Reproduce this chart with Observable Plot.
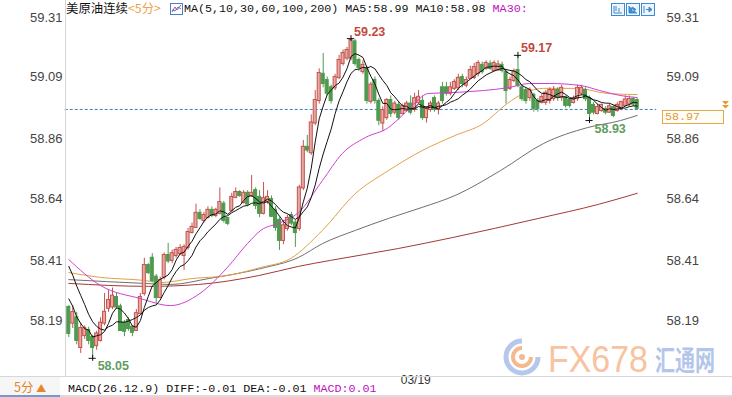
<!DOCTYPE html>
<html><head><meta charset="utf-8">
<script src="https://cdn.jsdelivr.net/npm/d3@7"></script>
<script src="https://cdn.jsdelivr.net/npm/@observablehq/plot@0.6"></script>
<style>
body{margin:0;background:#fff;}
#wrap{position:relative;width:732px;height:397px;overflow:hidden;background:#fff;font-family:"Liberation Sans",Arial,sans-serif;}
.abs{position:absolute;white-space:nowrap;}
.mono{font-family:"Liberation Mono","DejaVu Sans Mono",monospace;font-size:11.7px;line-height:14px;}
.cjk{font-family:"Noto Sans CJK SC",sans-serif;}
</style></head><body><div id="wrap"></div>
<script>
// ---- data ----
const open = [
58.238,58.180,58.200,58.090,58.134,58.153,58.127,58.097,58.116,58.180,
58.235,58.240,58.275,58.240,58.180,58.190,58.165,58.153,58.215,58.290,
58.393,58.420,58.350,58.275,58.350,58.430,58.412,58.430,58.437,58.430,
58.460,58.515,58.534,58.586,58.560,58.571,58.597,58.578,58.586,58.620,
58.567,58.597,58.645,58.663,58.626,58.660,58.652,58.670,58.645,58.586,
58.630,58.637,58.597,58.560,58.486,58.530,58.578,58.550,58.530,58.680,
58.830,58.810,58.920,59.003,59.100,59.077,59.050,59.050,59.088,59.140,
59.160,59.160,59.220,59.151,59.110,59.120,59.000,59.077,59.000,58.920,
58.940,59.003,58.960,58.985,58.955,58.966,58.990,58.970,58.995,59.000,
58.940,58.970,59.010,58.970,59.050,59.050,59.030,59.048,59.050,59.088,
59.060,59.085,59.088,59.103,59.133,59.122,59.137,59.114,59.118,59.133,
59.107,59.048,59.077,59.114,59.050,59.040,59.014,59.022,59.000,58.996,
58.996,59.003,59.010,59.040,59.014,59.014,59.003,58.996,59.010,59.030,
59.040,59.010,58.985,58.955,58.966,58.970,58.960,58.977,58.966,58.974,
58.985,58.990,59.007,59.003];
const close = [
58.142,58.219,58.116,58.160,58.160,58.116,58.090,58.140,58.180,58.220,
58.264,58.280,58.240,58.153,58.150,58.160,58.146,58.215,58.275,58.393,
58.367,58.338,58.275,58.338,58.430,58.410,58.437,58.449,58.456,58.460,
58.515,58.534,58.586,58.567,58.578,58.597,58.578,58.597,58.626,58.560,
58.549,58.645,58.663,58.652,58.660,58.620,58.660,58.615,58.586,58.640,
58.645,58.575,58.534,58.486,58.540,58.567,58.550,58.515,58.680,58.830,
58.820,58.920,59.003,59.103,59.066,59.030,59.003,59.088,59.151,59.177,
59.188,59.225,59.140,59.125,59.133,59.003,59.060,59.003,58.930,58.966,
59.003,58.955,58.990,58.940,58.980,58.990,58.960,59.010,59.015,58.940,
58.970,58.990,58.970,58.990,59.003,59.030,59.050,59.070,59.085,59.066,
59.077,59.114,59.125,59.140,59.110,59.140,59.122,59.140,59.135,59.114,
59.040,59.077,59.107,59.059,59.010,59.003,59.040,58.974,58.974,59.014,
59.030,59.040,59.040,59.014,59.048,58.985,58.985,59.007,59.048,59.048,
59.010,58.955,58.960,58.977,58.985,58.960,58.980,58.948,58.985,58.996,
59.005,59.007,58.990,58.974];
const high = [
58.245,58.245,58.220,58.180,58.170,58.165,58.135,58.150,58.200,58.290,
58.300,58.310,58.290,58.250,58.190,58.200,58.170,58.230,58.290,58.420,
58.400,58.437,58.360,58.350,58.440,58.475,58.450,58.460,58.470,58.470,
58.530,58.550,58.620,58.600,58.590,58.610,58.610,58.605,58.680,58.630,
58.570,58.660,58.680,58.670,58.670,58.670,58.726,58.680,58.670,58.700,
58.670,58.650,58.610,58.570,58.560,58.580,58.590,58.560,58.690,58.855,
58.874,58.950,59.040,59.120,59.177,59.090,59.060,59.100,59.170,59.190,
59.200,59.232,59.230,59.160,59.150,59.130,59.070,59.090,59.010,58.980,
59.010,59.020,59.000,59.000,58.990,59.000,59.020,59.030,59.040,59.020,
58.980,59.000,59.020,59.000,59.070,59.070,59.070,59.080,59.100,59.100,
59.090,59.130,59.140,59.150,59.145,59.150,59.150,59.150,59.150,59.145,
59.115,59.090,59.120,59.170,59.060,59.050,59.050,59.030,59.010,59.025,
59.040,59.050,59.055,59.050,59.060,59.020,59.010,59.020,59.060,59.060,
59.050,59.020,58.995,58.990,58.990,58.980,58.990,58.985,58.995,59.000,
59.020,59.020,59.015,59.010];
const low = [
58.127,58.160,58.100,58.068,58.120,58.100,58.050,58.080,58.110,58.170,
58.220,58.230,58.230,58.150,58.130,58.150,58.130,58.150,58.210,58.280,
58.360,58.330,58.253,58.270,58.340,58.400,58.400,58.420,58.430,58.375,
58.450,58.510,58.530,58.560,58.550,58.565,58.570,58.570,58.580,58.550,
58.540,58.590,58.640,58.645,58.620,58.610,58.645,58.600,58.570,58.580,
58.620,58.570,58.520,58.449,58.470,58.520,58.540,58.460,58.520,58.670,
58.810,58.800,58.910,58.990,59.050,59.020,58.990,59.040,59.080,59.130,
59.150,59.150,59.130,59.110,59.100,58.990,58.990,58.990,58.910,58.890,
58.930,58.940,58.950,58.930,58.950,58.960,58.950,58.960,58.990,58.930,
58.920,58.960,58.960,58.950,58.990,59.020,59.020,59.040,59.040,59.050,
59.050,59.080,59.080,59.090,59.100,59.115,59.115,59.110,59.110,59.105,
58.990,59.040,59.070,59.050,59.000,58.990,59.000,58.960,58.960,58.990,
58.985,58.990,59.000,59.000,59.000,58.975,58.975,58.990,59.000,59.020,
59.000,58.929,58.950,58.950,58.960,58.950,58.955,58.940,58.960,58.965,
58.980,58.980,58.980,58.966];
// closes before the first visible bar (for MA5 / MA10)
const priorClose = [58.55,58.52,58.50,58.50,58.48,58.36,58.31,58.28,58.258];

// long moving averages, sampled at bar positions
const ma30Idx = [1,9,19,26.6,34,40.9,46,49.3,54.3,58.8,64.8,69.8,75.6,81.4,84.9,88.2,91.4,98.2,105.3,111.3,117,122,129.6,134.6,139.6,144];
const ma30Val = [58.415,58.319,58.271,58.245,58.29,58.386,58.475,58.523,58.552,58.589,58.707,58.807,58.866,58.903,58.948,58.996,59.029,59.033,59.04,59.05,59.066,59.066,59.059,59.04,59.022,59.014];
const ma60Idx = [1,9,19.9,24,32,40.9,49.3,56.8,64.8,73.1,81.4,89.9,98.2,105.3,111.3,115.4,120.4,129,136.5,144];
const ma60Val = [58.367,58.349,58.338,58.33,58.345,58.356,58.386,58.419,58.523,58.659,58.744,58.818,58.874,58.918,58.992,59.029,59.048,59.048,59.029,59.025];
const ma100Idx = [1,19.9,26.6,36.2,49.3,58.8,64.8,73.1,81.4,89.9,98.2,109.6,120.4,131.5,139.8,144];
const ma100Val = [58.341,58.327,58.323,58.345,58.382,58.423,58.474,58.523,58.567,58.608,58.652,58.744,58.844,58.903,58.929,58.948];
const ma200Idx = [1,21.1,33.6,48.8,58.8,66.8,83.9,97.7,119.1,134.2,144];
const ma200Val = [58.327,58.316,58.323,58.356,58.39,58.412,58.456,58.497,58.567,58.619,58.66];

const yTicks = [59.31,59.09,58.86,58.64,58.41,58.19];
const dateIdx = [84];
const dateLabel = ["03/19"];
const markIdx = [72,114,7,132];
const markLabel = ["59.23","59.17","58.05","58.93"];
const lastPrice = 58.97;

// ---- build ----
const bars = close.map((c,k)=>({i:k+1,o:open[k],h:high[k],l:low[k],c,up:c>=open[k]}));
const all = priorClose.concat(close);
const ma5 = bars.map((d,k)=>({i:d.i,v:d3.mean(all.slice(k+5,k+10))}));
const ma10 = bars.map((d,k)=>({i:d.i,v:d3.mean(all.slice(k,k+10))}));
const toPts = (I,V)=>I.map((i,k)=>({i,v:V[k]}));
const marks = markIdx.map((i,k)=>({i,v:k<2?high[i-1]:low[i-1],t:markLabel[k],up:k<2}));
const dates = dateIdx.map((i,k)=>({i,t:dateLabel[k]}));
const RED="#c4524c", GREEN="#4f9a4f";

const chart = Plot.plot({
  width:732, height:397,
  marginLeft:65, marginRight:70, marginTop:17, marginBottom:22,
  style:{fontFamily:"Liberation Sans, Arial, sans-serif", color:"#444", background:"transparent"},
  x:{domain:[1,144], range:[68.3,636.7], axis:null},
  y:{domain:[57.9865,59.31], range:[375,17]},
  marks:[
    Plot.axisY(yTicks,{anchor:"left", tickSize:0, tickPadding:3, tickFormat:d=>d.toFixed(2), fontSize:13, label:null}),
    Plot.axisY(yTicks,{anchor:"right", tickSize:0, tickPadding:4, tickFormat:d=>d.toFixed(2), fontSize:13, label:null}),
    Plot.ruleY([lastPrice],{x1:0.1, x2:148.9, stroke:"#3f7fb5", strokeDasharray:"3,2", strokeWidth:1}),
    Plot.line(toPts(ma200Idx,ma200Val),{x:"i",y:"v",stroke:"#a23a35",strokeWidth:1,curve:"monotone-x"}),
    Plot.line(toPts(ma100Idx,ma100Val),{x:"i",y:"v",stroke:"#6f6f6f",strokeWidth:1,curve:"monotone-x"}),
    Plot.line(toPts(ma60Idx,ma60Val),{x:"i",y:"v",stroke:"#e3a048",strokeWidth:1,curve:"monotone-x"}),
    Plot.ruleX(bars,{x:"i",y1:"l",y2:"h",stroke:d=>d.up?RED:GREEN,strokeWidth:1}),
    Plot.rect(bars,{x1:d=>d.i-0.38,x2:d=>d.i+0.38,y1:"o",y2:"c",
      fill:d=>d.up?"#e6aaa4":GREEN, stroke:d=>d.up?RED:GREEN, strokeWidth:1, insetTop:-0.5, insetBottom:-0.5}),
    Plot.line(toPts(ma30Idx,ma30Val),{x:"i",y:"v",stroke:"#cf3fcf",strokeWidth:1,curve:"monotone-x"}),
    Plot.line(ma10,{x:"i",y:"v",stroke:"#111",strokeWidth:1}),
    Plot.line(ma5,{x:"i",y:"v",stroke:"#111",strokeWidth:1}),
    Plot.ruleY(marks,{y:"v",x1:d=>d.i-0.9,x2:d=>d.i+0.9,stroke:"#111"}),
    Plot.ruleX(marks,{x:"i",y1:"v",y2:"v",insetTop:-3,insetBottom:-3,stroke:"#111"}),
    Plot.text(marks,{x:"i",y:"v",text:"t",textAnchor:"start",
      fill:d=>d.up?"#c4483f":"#5f9d5f", fontSize:12.5, fontWeight:"bold"}),
    Plot.text(dates,{x:"i",frameAnchor:"bottom",text:"t",textAnchor:"start",dx:2,dy:8,fontSize:12,fill:"#333"})
  ]
});
const wrap = document.getElementById("wrap");
chart.style.position="absolute"; chart.style.left="0"; chart.style.top="0";
wrap.appendChild(chart);
// shift mark labels (offset per kind)
chart.querySelectorAll("g[aria-label=text]")[0]?.querySelectorAll("text").forEach((t,k)=>{
  const up = marks[k].up;
  t.setAttribute("transform",(t.getAttribute("transform")||"")+` translate(${up?3:5},${up?-7:8})`);
});

const yS = chart.scale("y");
function add(html){wrap.insertAdjacentHTML("beforeend",html);}
// left frame line & bottom bar lines
add(`<div class="abs" style="left:65px;top:0;width:1px;height:376px;background:#d6d6d6"></div>`);
add(`<div class="abs" style="left:0;top:376px;width:732px;height:1px;background:#d8d8d8"></div>`);
add(`<div class="abs" style="left:0;top:395px;width:732px;height:2px;background:#dcdcdc"></div>`);
add(`<div class="abs" style="left:0;top:377px;width:60px;height:18px;background:#f6f6f6"></div>`);
add(`<div class="abs" style="left:0;top:395px;width:60px;height:2px;background:#6f9bd0"></div>`);
// legend
add(`<div class="abs cjk" style="left:66px;top:1px;font-size:12.4px;line-height:15px;color:#111">美原油连续<span style="color:#f0a24a">&lt;5分&gt;</span></div>`);
add(`<svg class="abs" style="left:170px;top:3px" width="13" height="12"><rect x="0.5" y="0.5" width="12" height="11" fill="#fff" stroke="#4a7fc0"/><polyline points="2,9 5,4 7,7 11,2" fill="none" stroke="#c040c0"/><polyline points="2,7 5,8 8,4 11,6" fill="none" stroke="#4a7fc0"/></svg>`);
add(`<div class="abs mono" style="left:184px;top:2px;color:#111">MA(5,10,30,60,100,200) MA5:${d3.mean(close.slice(-5)).toFixed(2)} MA10:${d3.mean(close.slice(-10)).toFixed(2)} <span style="color:#c010c0">MA30:</span></div>`);
// top-right icons
add(`<svg class="abs" style="left:611px;top:3px" width="44" height="13">
<rect x="0.5" y="0.5" width="13" height="12" fill="#eef5fc" stroke="#3d8bd0"/><path d="M3 3v7h8M5 3v5M8 5v4" stroke="#3d8bd0" fill="none"/>
<rect x="15.5" y="0.5" width="13" height="12" fill="#eef5fc" stroke="#3d8bd0"/><path d="M18 3v7h8M21 4l4 2.5-4 2.5z" stroke="#3d8bd0" fill="#3d8bd0"/>
<rect x="30.5" y="0.5" width="13" height="12" fill="#eef5fc" stroke="#3d8bd0"/><path d="M33 3v7M35 6.5h4M38 4l3 2.5-3 2.5z" stroke="#3d8bd0" fill="#3d8bd0"/></svg>`);
// last price box
const py = yS.apply(lastPrice);
add(`<div class="abs mono" style="left:662px;top:${py+1}px;width:58px;height:12px;border:1px solid #e6a74e;background:#fffdf8;color:#e09a3a;font-size:11.7px;line-height:12px;padding-left:2px;box-sizing:content-box">${lastPrice.toFixed(2)}</div>`);
add(`<svg class="abs" style="left:722px;top:${py-8}px" width="8" height="8"><path d="M0 0h7l-3.5 3.5z M0 4h7l-3.5 3.5z" fill="#e89a2a"/></svg>`);
// bottom bar
add(`<div class="abs cjk" style="left:14px;top:379px;font-size:12.5px;line-height:15px;color:#e8852a">5分 <span style="font-size:10px">▲</span></div>`);
add(`<div class="abs mono" style="left:68px;top:382px;color:#111">MACD(26.12.9) DIFF:-0.01 DEA:-0.01 <span style="color:#c010c0">MACD:0.01</span></div>`);
// watermark
add(`<svg class="abs" style="left:500px;top:326px;overflow:visible" width="228" height="56">
<path d="M22 15 A16 16 0 1 0 38 31" fill="none" stroke="#b5c8ec" stroke-width="5"/>
<path d="M22 22 A9 9 0 1 0 31 31" fill="none" stroke="#f4b98f" stroke-width="4"/>
<circle cx="22" cy="31" r="3" fill="#f4b98f"/>
<text x="48" y="46" font-family="Liberation Sans, Arial" font-size="37" fill="#f7c3a0" textLength="100" lengthAdjust="spacingAndGlyphs">FX678</text>
<text transform="translate(155,45) scale(1,1.4)" font-family="Noto Sans CJK SC" font-weight="bold" font-size="20" fill="#b3c6ea">汇通网</text></svg>`);
</script></body></html>
